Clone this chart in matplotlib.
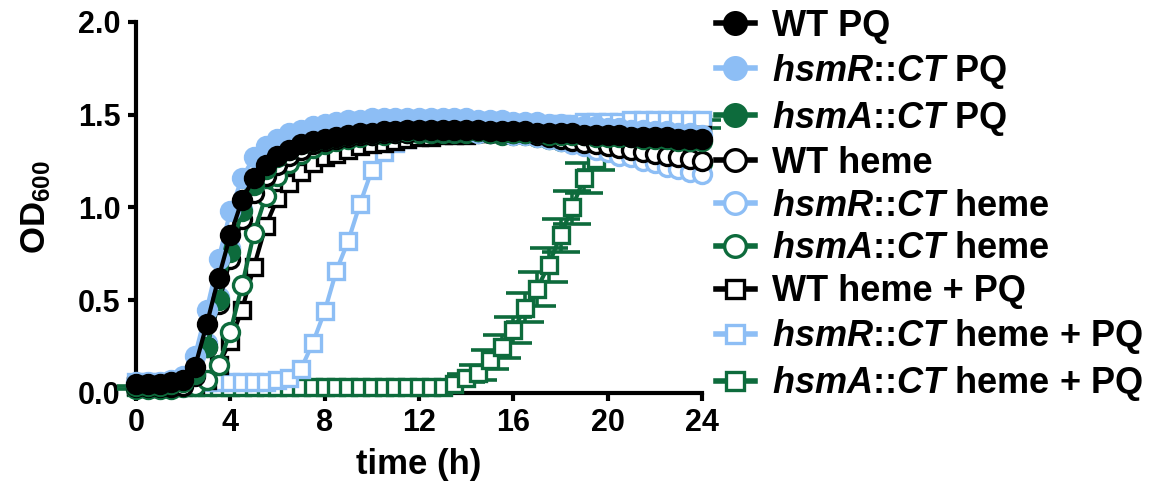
import matplotlib
matplotlib.use("Agg")
import matplotlib.pyplot as plt

plt.rcParams['font.family'] = ['Liberation Sans', 'DejaVu Sans']
plt.rcParams['font.weight'] = 'bold'
plt.rcParams['mathtext.fontset'] = 'custom'
plt.rcParams['mathtext.rm'] = 'Liberation Sans:bold'
plt.rcParams['mathtext.it'] = 'Liberation Sans:italic:bold'
plt.rcParams['mathtext.bf'] = 'Liberation Sans:bold'

time_h = [0, 0.5, 1, 1.5, 2, 2.5, 3, 3.5, 4, 4.5, 5, 5.5, 6, 6.5, 7, 7.5, 8, 8.5, 9, 9.5,
          10, 10.5, 11, 11.5, 12, 12.5, 13, 13.5, 14, 14.5, 15, 15.5, 16, 16.5, 17, 17.5, 18, 18.5, 19, 19.5,
          20, 20.5, 21, 21.5, 22, 22.5, 23, 23.5, 24]

wt_pq = [0.05, 0.05, 0.05, 0.06, 0.07, 0.14, 0.37, 0.62, 0.85, 1.04, 1.16, 1.23, 1.28, 1.31, 1.34, 1.36, 1.37, 1.38, 1.39, 1.40,
         1.40, 1.41, 1.41, 1.42, 1.42, 1.42, 1.42, 1.42, 1.42, 1.42, 1.41, 1.41, 1.41, 1.41, 1.40, 1.40, 1.40, 1.40, 1.39, 1.39,
         1.39, 1.39, 1.38, 1.38, 1.38, 1.38, 1.37, 1.37, 1.37]
hsmr_pq = [0.06, 0.06, 0.06, 0.07, 0.09, 0.20, 0.45, 0.72, 0.98, 1.16, 1.27, 1.33, 1.37, 1.40, 1.42, 1.44, 1.45, 1.46, 1.47, 1.47,
           1.48, 1.48, 1.48, 1.48, 1.48, 1.48, 1.48, 1.48, 1.48, 1.47, 1.47, 1.47, 1.46, 1.46, 1.46, 1.45, 1.45, 1.44, 1.44, 1.44,
           1.43, 1.43, 1.42, 1.42, 1.41, 1.41, 1.40, 1.40, 1.39]
hsma_pq = [0.04, 0.04, 0.04, 0.05, 0.06, 0.10, 0.25, 0.50, 0.76, 0.98, 1.12, 1.21, 1.27, 1.31, 1.34, 1.36, 1.37, 1.38, 1.39, 1.40,
           1.40, 1.41, 1.41, 1.41, 1.41, 1.41, 1.41, 1.41, 1.41, 1.41, 1.40, 1.40, 1.40, 1.40, 1.40, 1.39, 1.39, 1.39, 1.39, 1.38,
           1.38, 1.38, 1.38, 1.37, 1.37, 1.37, 1.36, 1.36, 1.36]
wt_heme = [0.03, 0.03, 0.03, 0.03, 0.04, 0.09, 0.25, 0.48, 0.72, 0.94, 1.08, 1.17, 1.23, 1.28, 1.31, 1.34, 1.36, 1.37, 1.38, 1.39,
           1.39, 1.40, 1.40, 1.40, 1.41, 1.41, 1.41, 1.41, 1.41, 1.41, 1.40, 1.40, 1.40, 1.40, 1.39, 1.38, 1.37, 1.36, 1.35, 1.34,
           1.33, 1.32, 1.31, 1.30, 1.29, 1.28, 1.27, 1.26, 1.25]
hsmr_heme = [0.04, 0.04, 0.04, 0.04, 0.05, 0.10, 0.27, 0.52, 0.78, 0.99, 1.12, 1.20, 1.26, 1.30, 1.33, 1.35, 1.37, 1.38, 1.39, 1.40,
             1.40, 1.41, 1.41, 1.41, 1.41, 1.41, 1.41, 1.41, 1.41, 1.40, 1.40, 1.40, 1.39, 1.39, 1.38, 1.37, 1.36, 1.34, 1.33, 1.31,
             1.30, 1.28, 1.27, 1.25, 1.24, 1.22, 1.21, 1.19, 1.18]
hsma_heme = [0.02, 0.02, 0.02, 0.02, 0.03, 0.04, 0.07, 0.15, 0.33, 0.58, 0.86, 1.06, 1.17, 1.24, 1.29, 1.32, 1.34, 1.36, 1.37, 1.38,
             1.39, 1.39, 1.40, 1.40, 1.40, 1.40, 1.40, 1.40, 1.40, 1.40, 1.40, 1.39, 1.39, 1.39, 1.38, 1.37, 1.36, 1.35, 1.34, 1.33,
             1.32, 1.31, 1.30, 1.29, 1.28, 1.27, 1.26, 1.25, 1.24]
wt_heme_pq = [0.04, 0.04, 0.04, 0.04, 0.04, 0.05, 0.07, 0.15, 0.28, 0.45, 0.68, 0.90, 1.05, 1.13, 1.19, 1.24, 1.27, 1.29, 1.31, 1.33,
              1.34, 1.35, 1.36, 1.37, 1.38, 1.38, 1.39, 1.39, 1.39, 1.40, 1.40, 1.40, 1.40, 1.40, 1.40, 1.40, 1.40, 1.40, 1.40, 1.40,
              1.40, 1.40, 1.40, 1.39, 1.39, 1.39, 1.39, 1.39, 1.39]
hsmr_heme_pq = [0.06, 0.06, 0.06, 0.06, 0.06, 0.06, 0.06, 0.06, 0.06, 0.06, 0.06, 0.06, 0.07, 0.08, 0.13, 0.27, 0.44, 0.66, 0.82, 1.02,
                1.20, 1.30, 1.35, 1.37, 1.39, 1.40, 1.41, 1.41, 1.42, 1.42, 1.43, 1.43, 1.44, 1.44, 1.44, 1.45, 1.45, 1.45, 1.46, 1.46,
                1.46, 1.46, 1.47, 1.47, 1.47, 1.47, 1.47, 1.47, 1.47]
hsma_heme_pq = [0.03, 0.03, 0.03, 0.03, 0.03, 0.03, 0.03, 0.03, 0.03, 0.03, 0.03, 0.03, 0.03, 0.03, 0.03, 0.03, 0.03, 0.03, 0.03, 0.03,
                0.03, 0.03, 0.03, 0.03, 0.03, 0.03, 0.03, 0.05, 0.08, 0.11, 0.18, 0.25, 0.34, 0.46, 0.56, 0.69, 0.85, 1.00, 1.16, 1.26,
                1.31, 1.34, 1.37, 1.39, 1.41, 1.42, 1.43, 1.44, 1.45]
hsma_heme_pq_sd = [0.01, 0.01, 0.01, 0.01, 0.01, 0.01, 0.01, 0.01, 0.01, 0.01, 0.01, 0.01, 0.01, 0.01, 0.01, 0.01, 0.01, 0.01, 0.01, 0.01,
                   0.01, 0.01, 0.01, 0.01, 0.01, 0.01, 0.01, 0.01, 0.02, 0.04, 0.05, 0.06, 0.07, 0.08, 0.09, 0.09, 0.09, 0.09, 0.08, 0.06,
                   0.05, 0.04, 0.03, 0.03, 0.02, 0.02, 0.02, 0.02, 0.02]

BLACK = '#000000'
BLUE = '#8DBEF5'
GREEN = '#0D6B3C'

series = [
    (r'WT PQ', wt_pq, BLACK, 'o', True),
    (r'$\mathit{hsmR}$::$\mathit{CT}$ PQ', hsmr_pq, BLUE, 'o', True),
    (r'$\mathit{hsmA}$::$\mathit{CT}$ PQ', hsma_pq, GREEN, 'o', True),
    (r'WT heme', wt_heme, BLACK, 'o', False),
    (r'$\mathit{hsmR}$::$\mathit{CT}$ heme', hsmr_heme, BLUE, 'o', False),
    (r'$\mathit{hsmA}$::$\mathit{CT}$ heme', hsma_heme, GREEN, 'o', False),
    (r'WT heme + PQ', wt_heme_pq, BLACK, 's', False),
    (r'$\mathit{hsmR}$::$\mathit{CT}$ heme + PQ', hsmr_heme_pq, BLUE, 's', False),
    (r'$\mathit{hsmA}$::$\mathit{CT}$ heme + PQ', hsma_heme_pq, GREEN, 's', False),
]

fig = plt.figure(figsize=(11.56, 4.86), dpi=100)
ax = fig.add_axes([0.1176, 0.1914, 0.4897, 0.7634])

handles = []
n = len(series)
for i, (lab, vals, col, mk, filled) in enumerate(series):
    z = 10 + (n - i)
    ms = 13 if mk == 'o' else 11
    ln, = ax.plot(time_h, vals, color=col, lw=3.0, marker=mk, ms=ms,
                  mfc=col if filled else 'white', mec=col, mew=2.4,
                  zorder=z, clip_on=False, label=lab)
    handles.append(ln)

ax.errorbar(time_h, hsma_heme_pq, yerr=hsma_heme_pq_sd, fmt='none', ecolor=GREEN,
            elinewidth=2.6, capsize=14, capthick=2.6, zorder=10.5, clip_on=False)

ax.set_xlim(0, 24)
ax.set_ylim(0, 2.0)
ax.set_xticks([0, 4, 8, 12, 16, 20, 24])
ax.set_yticks([0, 0.5, 1.0, 1.5, 2.0])
ax.set_yticklabels(['0.0', '0.5', '1.0', '1.5', '2.0'])
for s in ['top', 'right']:
    ax.spines[s].set_visible(False)
for s in ['left', 'bottom']:
    ax.spines[s].set_linewidth(3)
    ax.spines[s].set_zorder(5)
ax.tick_params(axis='both', width=3, length=6, labelsize=22, pad=5)
for lbl in ax.get_xticklabels() + ax.get_yticklabels():
    lbl.set_fontweight('bold')

ax.set_xlabel('time (h)', fontsize=25, fontweight='bold', labelpad=7)
ax.set_ylabel(r'OD$_{600}$', fontsize=25, fontweight='bold', labelpad=18)

leg = ax.legend(handles=handles, loc='upper left', bbox_to_anchor=(0.619, 0.982),
                bbox_transform=fig.transFigure, frameon=False, fontsize=26,
                handlelength=1.1, handletextpad=0.47, labelspacing=0.22,
                borderaxespad=0, borderpad=0, markerscale=1.2)
for t in leg.get_texts():
    t.set_fontweight('bold')
for h in leg.legend_handles:
    h.set_linewidth(4)

fig.savefig('out.png', dpi=100)
